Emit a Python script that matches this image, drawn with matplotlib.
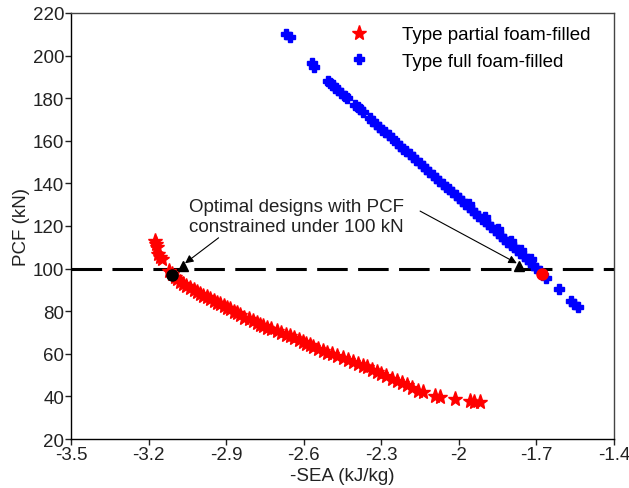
import matplotlib.pyplot as plt

plt.rcParams['font.family'] = ['Liberation Sans', 'DejaVu Sans']

# partial foam-filled designs (red stars)
partial_x = [-3.175, -3.170, -3.167, -3.163, -3.155, -3.148, -3.120, -3.109, -3.098,
             -3.090, -3.078, -3.067, -3.055, -3.040, -3.025, -3.012, -3.001, -2.988,
             -2.975, -2.962, -2.948, -2.935, -2.924, -2.910, -2.898, -2.885, -2.870,
             -2.858, -2.846, -2.830, -2.812, -2.796, -2.782, -2.770, -2.758, -2.742,
             -2.725, -2.703, -2.688, -2.670, -2.653, -2.636, -2.620, -2.603, -2.590,
             -2.576, -2.564, -2.545, -2.525, -2.510, -2.490, -2.471, -2.450, -2.430,
             -2.409, -2.390, -2.370, -2.355, -2.335, -2.317, -2.300, -2.280, -2.259,
             -2.240, -2.220, -2.201, -2.180, -2.158, -2.139, -2.092, -2.073, -2.015,
             -1.957, -1.940, -1.918]
partial_y = [113.0, 111.5, 110.0, 107.0, 105.5, 104.5, 99.0, 97.5, 96.0,
             95.0, 93.8, 92.8, 92.0, 91.0, 89.8, 88.8, 88.0, 87.2,
             86.5, 85.7, 84.6, 83.8, 83.4, 82.3, 81.6, 81.0, 79.8,
             79.0, 78.2, 77.0, 76.2, 75.4, 74.5, 73.6, 73.0, 72.2,
             71.6, 70.7, 69.8, 69.0, 68.4, 67.3, 66.4, 65.5, 64.8,
             64.0, 63.2, 62.2, 61.3, 60.6, 59.8, 59.0, 57.8, 56.9,
             56.0, 55.2, 54.3, 53.8, 52.6, 51.5, 50.6, 49.4, 48.2,
             47.2, 46.3, 45.4, 44.0, 42.5, 42.0, 40.2, 39.7, 38.8,
             37.8, 37.5, 37.4]

# full foam-filled designs (blue crosses)
full_x = [-2.668, -2.655, -2.568, -2.560, -2.505, -2.497, -2.488, -2.478, -2.468,
          -2.455, -2.442, -2.432, -2.400, -2.392, -2.383, -2.372, -2.345, -2.335,
          -2.322, -2.310, -2.298, -2.285, -2.272, -2.260, -2.240, -2.228, -2.215,
          -2.203, -2.190, -2.178, -2.165, -2.152, -2.140, -2.128, -2.115, -2.100,
          -2.088, -2.075, -2.062, -2.050, -2.038, -2.025, -2.012, -2.000, -1.988,
          -1.975, -1.962, -1.950, -1.938, -1.925, -1.912, -1.900, -1.888, -1.875,
          -1.862, -1.850, -1.838, -1.825, -1.812, -1.800, -1.788, -1.775, -1.762,
          -1.750, -1.738, -1.725, -1.712, -1.700, -1.688, -1.662, -1.612, -1.565,
          -1.555, -1.540,
          -1.960, -1.900, -1.850, -1.800, -1.760, -1.720]
full_y = [210.0, 208.5, 196.5, 194.5, 188.0, 187.0, 186.0, 185.0, 184.0,
          182.5, 181.2, 180.0, 177.0, 175.8, 174.8, 173.5, 170.5, 169.3,
          167.9, 166.6, 165.3, 163.9, 162.5, 161.2, 159.0, 157.7, 156.3,
          155.0, 153.6, 152.3, 150.9, 149.5, 148.2, 146.9, 145.5, 143.9,
          142.6, 141.2, 139.8, 138.5, 137.2, 135.8, 134.4, 133.0, 131.7,
          130.3, 128.9, 127.6, 126.3, 124.9, 123.5, 122.2, 120.9, 119.5,
          118.1, 116.8, 115.5, 114.1, 112.7, 111.3, 110.0, 108.6, 107.2,
          105.9, 104.6, 103.2, 101.8, 100.5, 99.0, 95.5, 90.5, 85.0,
          83.5, 81.8,
          130.5, 124.0, 118.5, 113.0, 108.8, 104.5]

# chosen optima
opt_partial = (-3.108, 97.0)
opt_full = (-1.680, 97.5)
tri_x = [-3.067, -1.768]
tri_y = [101.0, 101.0]
pcf_limit = 100

fig = plt.figure(figsize=(6.29, 4.89), dpi=100)
ax = fig.add_axes([0.1129, 0.1002, 0.8633, 0.8712])

ax.axhline(pcf_limit, color='black', lw=2.2, dashes=(10, 3.4), zorder=1)

ax.plot(partial_x, partial_y, ls='none', marker='*', ms=11, color='red',
        mec='red', label='Type partial foam-filled', zorder=3)
ax.plot(full_x, full_y, ls='none', marker='P', ms=7.5, color='blue',
        mec='blue', label='Type full foam-filled', zorder=2)

ax.plot(*opt_partial, ls='none', marker='o', ms=8, color='black', zorder=4)
ax.plot(*opt_full, ls='none', marker='o', ms=8, color='red', zorder=4)
ax.plot(tri_x, tri_y, ls='none', marker='^', ms=7.5, color='black', zorder=4)

txt = "Optimal designs with PCF\nconstrained under 100 kN"
ax.annotate(txt, xy=(tri_x[0] + 0.008, tri_y[0] + 1.5), xytext=(-3.044, 124.5),
            fontsize=13.5, ha='left', va='center', linespacing=1.25,
            color='#222222',
            arrowprops=dict(arrowstyle='-|>', color='black', lw=0.8,
                            shrinkA=0, shrinkB=0, mutation_scale=12,
                            relpos=(0.155, 0.0)))
ax.annotate('', xy=(tri_x[1] - 0.008, tri_y[1] + 1.5), xytext=(-2.150, 127.0),
            arrowprops=dict(arrowstyle='-|>', color='black', lw=0.8,
                            shrinkA=0, shrinkB=0, mutation_scale=12))

ax.set_xlim(-3.5, -1.4)
ax.set_ylim(20, 220)
ax.set_xticks([-3.5, -3.2, -2.9, -2.6, -2.3, -2.0, -1.7, -1.4])
ax.set_xticklabels(['-3.5', '-3.2', '-2.9', '-2.6', '-2.3', '-2', '-1.7', '-1.4'])
ax.set_yticks(range(20, 221, 20))
ax.tick_params(labelsize=13.5, length=4, width=1, pad=1, colors='#222222')
ax.set_xlabel('-SEA (kJ/kg)', fontsize=13.5, labelpad=3, color='#222222')
ax.set_ylabel('PCF (kN)', fontsize=13.5, labelpad=2, color='#222222')
for s in ax.spines.values():
    s.set_linewidth(1)
ax.spines['top'].set_color('#444444')
ax.spines['right'].set_color('#444444')

ax.legend(loc='upper right', frameon=False, fontsize=13.5, handletextpad=1.5,
          borderaxespad=0.3, labelspacing=0.5, handlelength=1.5,
          bbox_to_anchor=(0.98, 1.0))

fig.savefig('out.png', dpi=100)
